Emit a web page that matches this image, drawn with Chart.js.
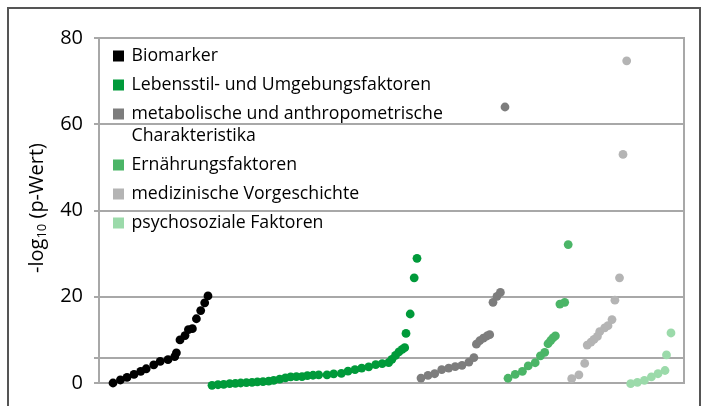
<!DOCTYPE html>
<html>
<head>
<meta charset="utf-8">
<script src="https://cdn.jsdelivr.net/npm/chart.js@4/dist/chart.umd.min.js"></script>
<style>
html,body{margin:0;padding:0;background:#fff;overflow:hidden}
#frame{position:absolute;left:7px;top:7px;width:694px;height:420px;border:2px solid #555;box-sizing:border-box}
#wrap{position:absolute;left:0;top:0;width:709px;height:406px}
</style>
</head>
<body>
<div id="frame"></div>
<div id="wrap"><canvas id="chart" width="709" height="406"></canvas></div>
<script>
// categories (legend order)
const categories=['Biomarker','Lebensstil- und Umgebungsfaktoren','metabolische und anthropometrische\nCharakteristika','Ernährungsfaktoren','medizinische Vorgeschichte','psychosoziale Faktoren'];
const colors=['#000000','#009a3a','#7d7d7d','#4bb567','#b4b4b4','#9bdaaa'];

// y axis
const yTicks=[0,20,40,60,80];
const threshold=5.8;

// x = position along the (unlabelled) x axis, y = -log10(p)
const bioX=[14,21.4,28,35,41.7,47.2,54.7,61.2,69,75.7,77.4,81,86,89.4,93.4,97.4,101.7,105.7,109];
const bioY=[0,0.7,1.3,2.0,2.7,3.3,4.2,5.0,5.4,6.1,7.0,10.0,11.0,12.4,12.6,14.9,16.8,18.6,20.2];

const lifeX=[113,119,124.7,130.7,136.4,141.7,147.4,153,158.4,164,169.7,174.7,180.7,186.4,191.7,197.4,203,208.4,214,219.7,
  228,234.7,242.4,249,256,262.7,269.7,276.7,283.2,289.7,292.9,296.5,299.9,303.2,305.7,307,311.2,315.2,318];
const lifeY=[-0.55,-0.4,-0.3,-0.15,-0.1,0,0.1,0.15,0.25,0.3,0.45,0.6,0.9,1.2,1.4,1.5,1.5,1.7,1.8,1.9,
  1.9,2.1,2.25,2.75,3.1,3.45,3.75,4.25,4.5,4.75,5.5,6.4,7.2,7.8,8.2,11.5,16.0,24.4,28.9];

const metX=[322,329,335.7,342.7,349.7,356.2,363,369.9,374.9,377.4,380.7,384.4,388,390.7,394,398,401.4,406];
const metY=[1.15,1.75,2.15,3.1,3.45,3.8,4.1,4.85,5.9,9.0,9.8,10.4,10.9,11.2,18.7,20.1,21.0,64.0];

const nutX=[409,416.2,423.4,429.2,436.2,441.4,445.7,449,451.7,454,456.4,460.9,465.7,469.2];
const nutY=[1.1,2.0,2.7,3.95,4.7,6.3,7.1,9.1,9.85,10.45,10.95,18.3,18.7,32.1];

const medX=[472.7,479.9,485.7,488.2,492,495,498.4,500.7,505.7,509,513,515.9,520.5,524,527.7];
const medY=[1.0,1.9,4.55,8.8,9.5,10.1,10.8,11.9,12.8,13.3,14.7,19.2,24.4,53.0,74.7];

const psyX=[531.7,538.4,545.4,552.4,559,566,567.5,572];
const psyY=[-0.15,0.15,0.6,1.4,2.15,2.9,6.5,11.6];

const FONT='"Open Sans", sans-serif';
const GRID='#a8a8a8';

const series=[[bioX,bioY],[lifeX,lifeY],[metX,metY],[nutX,nutY],[medX,medY],[psyX,psyY]];

const datasets=series.map((s,i)=>({
  label:categories[i].replace('\n',' '),
  data:s[0].map((x,j)=>({x:x,y:s[1][j]})),
  backgroundColor:colors[i],
  borderWidth:0,
  pointRadius:4.4,
  clip:false
}));

// legend + y title with subscript
const extras={
  id:'extras',
  afterDraw(chart){
    const ctx=chart.ctx;
    ctx.save();
    // legend
    ctx.font='17.7px '+FONT;
    ctx.textBaseline='middle';
    ctx.textAlign='left';
    let cy=56;
    categories.forEach((c,i)=>{
      ctx.fillStyle=colors[i];
      ctx.fillRect(113,cy-5.5,11,11);
      ctx.fillStyle='#000';
      const lines=c.split('\n');
      lines.forEach((l,k)=>{
        ctx.fillText(l,131.5,cy+k*22);
      });
      cy+=29+(lines.length-1)*22;
    });
    // y title
    ctx.translate(37,208);
    ctx.rotate(-Math.PI/2);
    const big='20px '+FONT, small='13px '+FONT;
    ctx.font=big; const w1=ctx.measureText('-log').width, w3=ctx.measureText(' (p-Wert)').width;
    ctx.font=small; const w2=ctx.measureText('10').width;
    let x=-(w1+w2+w3)/2;
    ctx.font=big; ctx.fillText('-log',x,0); x+=w1;
    ctx.font=small; ctx.fillText('10',x,5); x+=w2;
    ctx.font=big; ctx.fillText(' (p-Wert)',x,0);
    ctx.restore();
  }
};

new Chart(document.getElementById('chart').getContext('2d'),{
  type:'scatter',
  data:{datasets},
  options:{
    responsive:false,
    animation:false,
    layout:{padding:{left:0,right:25,top:38,bottom:22}},
    plugins:{legend:{display:false},tooltip:{enabled:false}},
    scales:{
      x:{type:'linear',min:0,max:585,display:false},
      y:{
        min:0,max:80,
        afterBuildTicks:s=>{s.ticks=yTicks.concat([threshold]).sort((a,b)=>a-b).map(v=>({value:v}));},
        afterFit:s=>{s.width=99;},
        ticks:{callback:v=>v===threshold?'':v,font:{family:FONT,size:20},color:'#000',padding:11},
        grid:{color:GRID,lineWidth:2,tickLength:5},
        border:{color:GRID,width:2}
      },
      yr:{
        position:'right',min:0,max:80,
        afterFit:s=>{s.width=0;},
        ticks:{display:false},
        grid:{display:false},
        border:{color:GRID,width:2}
      }
    }
  },
  plugins:[extras]
});
</script>
</body>
</html>
